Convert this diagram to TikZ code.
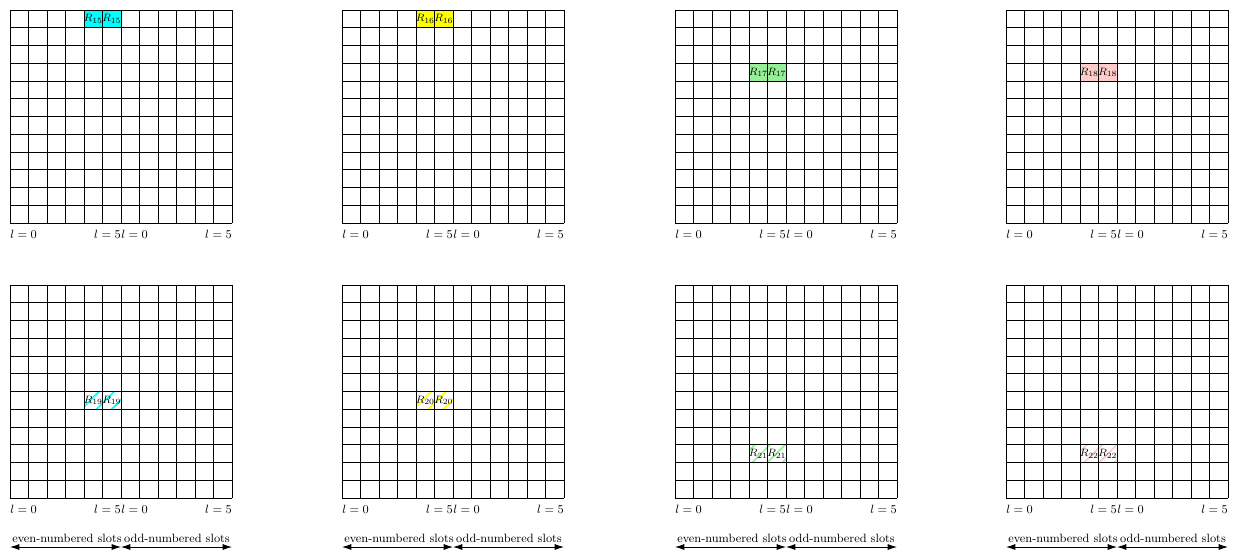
\documentclass[tikz,border=0pt]{standalone}
\usetikzlibrary{arrows.meta,patterns.meta}

\definecolor{slotcyan}{RGB}{0,255,255}
\definecolor{slotyellow}{RGB}{255,255,0}
\definecolor{slotgreen}{RGB}{150,240,150}
\definecolor{slotpink}{RGB}{255,204,204}

\begin{document}
\begin{tikzpicture}[
        x=0.75pt, y=-0.75pt,
        gridline/.style={line width=0.6pt, draw=black},
        solidcell/.style={fill=#1},
        hatchcell/.style={pattern={Lines[angle=45,distance=8pt,line width=1.3pt]}, pattern color=#1},
        cellname/.style={inner sep=0pt, font=\footnotesize},
        tick/.style={inner sep=0pt, font=\small},
        span/.style={{Latex[length=7pt,width=4.5pt]}-{Latex[length=7pt,width=4.5pt]}, line width=0.6pt}
    ]
    \useasboundingbox (0,0) rectangle (1239,551);

    % Panels: corner x/y, row of the pair, colour, index, cell style
    \foreach \ox/\oy/\row/\col/\idx/\kind in {
            10/10/0/slotcyan/15/solidcell, 342/10/0/slotyellow/16/solidcell,
            675/10/3/slotgreen/17/solidcell, 1006/10/3/slotpink/18/solidcell,
            10/285/6/slotcyan/19/hatchcell, 342/285/6/slotyellow/20/hatchcell,
            675/285/9/slotgreen/21/hatchcell, 1006/285/9/slotpink/22/hatchcell}{
        \begin{scope}[shift={(\ox,\oy)}]
            % Marked pair of slots
            \path[\kind=\col] (74,\row*17.75) rectangle (111,\row*17.75+17.75);

            % Grid
            \foreach \i in {0,...,12}{
                \draw[gridline] (\i*18.5,0) -- (\i*18.5,213);
                \draw[gridline] (0,\i*17.75) -- (222,\i*17.75);
            }

            % Slot names
            \node[cellname] (first\idx) at (83.25,\row*17.75+8.875) {$R_{\idx}$};
            \node[cellname] (second\idx) at (101.75,\row*17.75+8.875) {$R_{\idx}$};

            % Index labels
            \node[tick, anchor=west] (lzero\idx) at (0,224) {$l=0$};
            \node[tick, anchor=east] (lfive\idx) at (111,224) {$l=5$};
            \node[tick, anchor=west] (rzero\idx) at (111,224) {$l=0$};
            \node[tick, anchor=east] (rfive\idx) at (222,224) {$l=5$};
        \end{scope}
    }

    % Slot ranges below the lower panels
    \foreach \ox in {10,342,675,1006}{
        \coordinate (left\ox) at (\ox,547);
        \coordinate (mid\ox) at (\ox+111,547);
        \coordinate (right\ox) at (\ox+222,547);
        \node[tick] (even\ox) at (\ox+57,538) {even-numbered slots};
        \node[tick] (odd\ox) at (\ox+167,538) {odd-numbered slots};
        \draw[span] (left\ox) -- (mid\ox);
        \draw[span] (mid\ox) -- (right\ox);
    }
\end{tikzpicture}
\end{document}
